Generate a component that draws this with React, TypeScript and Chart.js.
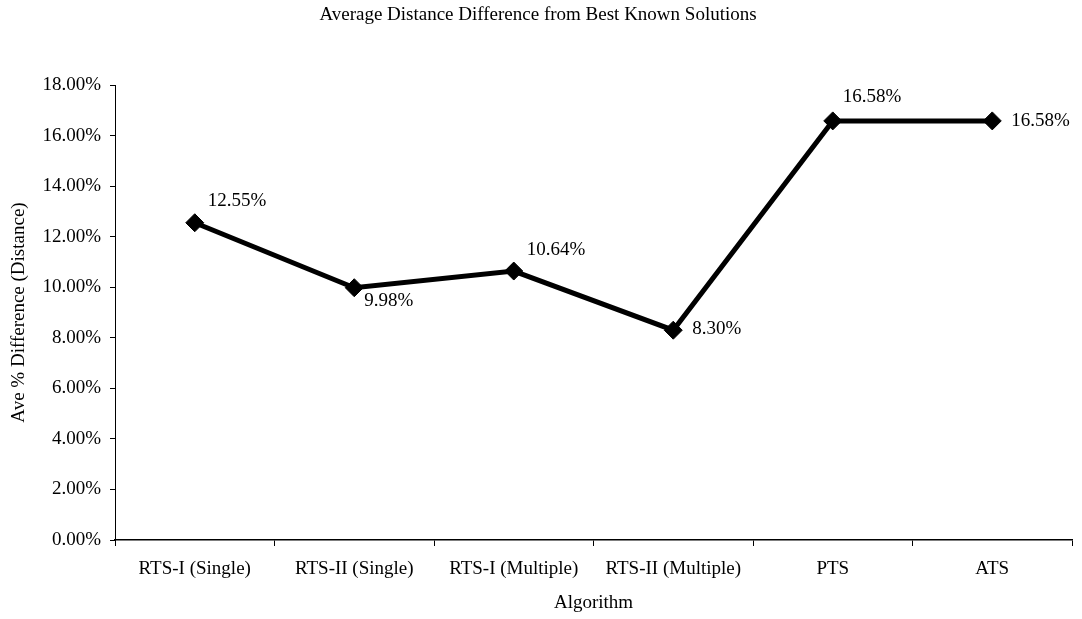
import React, { useEffect, useRef } from "react";
import { Chart, registerables } from "chart.js";

Chart.register(...registerables);

const CATEGORIES = [
  "RTS-I (Single)",
  "RTS-II (Single)",
  "RTS-I (Multiple)",
  "RTS-II (Multiple)",
  "PTS",
  "ATS",
];
const VALUES = [12.55, 9.98, 10.64, 8.3, 16.58, 16.58];
const Y_TICKS = [0, 2, 4, 6, 8, 10, 12, 14, 16, 18];

const TITLE = "Average Distance Difference from Best Known Solutions";
const X_TITLE = "Algorithm";
const Y_TITLE = "Ave % Difference (Distance)";

// label offsets (style only): [dx, dy] from the point, text left-aligned, middle baseline
const LABEL_OFFSETS: [number, number][] = [
  [13, -22],
  [10, 13],
  [13, -21],
  [19, -1],
  [10, -24],
  [19, 0],
];

const FONT = "'Liberation Serif', 'Times New Roman', serif";
const W = 1082;
const H = 619;

export default function App() {
  const ref = useRef<HTMLCanvasElement | null>(null);

  useEffect(() => {
    document.body.style.margin = "0";
    const canvas = ref.current;
    if (!canvas) return;

    const labelPlugin = {
      id: "customLabels",
      afterDatasetsDraw(chart: any) {
        const ctx = chart.ctx;
        const meta = chart.getDatasetMeta(0);
        ctx.save();
        ctx.fillStyle = "#000";
        ctx.font = `19px ${FONT}`;
        ctx.textAlign = "left";
        ctx.textBaseline = "middle";
        meta.data.forEach((pt: any, i: number) => {
          const [dx, dy] = LABEL_OFFSETS[i];
          ctx.fillText(VALUES[i].toFixed(2) + "%", pt.x + dx, pt.y + dy);
        });
        ctx.restore();
      },
      afterDraw(chart: any) {
        const ctx = chart.ctx;
        ctx.save();
        ctx.fillStyle = "#000";
        ctx.font = `19px ${FONT}`;
        ctx.textAlign = "center";
        ctx.textBaseline = "middle";
        ctx.fillText(TITLE, chart.width / 2 - 3, 15);
        ctx.restore();
      },
    };

    const chart = new Chart(canvas, {
      type: "line",
      data: {
        labels: CATEGORIES,
        datasets: [
          {
            data: VALUES,
            borderColor: "#000",
            backgroundColor: "#000",
            borderWidth: 5,
            pointStyle: "rectRot",
            pointRadius: 9,
            pointHoverRadius: 9,
            pointBackgroundColor: "#000",
            pointBorderColor: "#000",
            pointBorderWidth: 1,
            tension: 0,
            clip: false as any,
          },
        ],
      },
      options: {
        responsive: false,
        animation: false,
        devicePixelRatio: 1,
        layout: { padding: { top: 85, right: 8, left: 0, bottom: 0 } },
        plugins: {
          legend: { display: false },
          tooltip: { enabled: false },
          title: { display: false },
        },
        scales: {
          x: {
            type: "category",
            offset: true,
            grid: {
              display: true,
              offset: true,
              drawOnChartArea: false,
              drawTicks: true,
              tickLength: 6,
              color: "#000",
            },
            border: { display: true, color: "#000", width: 1.5 },
            ticks: {
              color: "#000",
              font: { family: FONT, size: 19 },
              padding: 12,
              maxRotation: 0,
              autoSkip: false,
            },
            title: {
              display: true,
              text: X_TITLE,
              color: "#000",
              font: { family: FONT, size: 19 },
              padding: { top: 0, bottom: 5 },
            },
            afterFit(scale: any) {
              scale.height = 79;
            },
          },
          y: {
            min: 0,
            max: 18,
            afterBuildTicks(scale: any) {
              scale.ticks = Y_TICKS.map((v) => ({ value: v }));
            },
            grid: {
              display: true,
              drawOnChartArea: false,
              drawTicks: true,
              tickLength: 5,
              color: "#000",
            },
            border: { display: true, color: "#000", width: 1 },
            ticks: {
              color: "#000",
              font: { family: FONT, size: 19 },
              padding: 9,
              callback: (v: any) => Number(v).toFixed(2) + "%",
            },
            title: {
              display: true,
              text: Y_TITLE,
              color: "#000",
              font: { family: FONT, size: 19 },
              padding: { top: 8, bottom: 0 },
            },
            afterFit(scale: any) {
              scale.width = 115;
            },
          },
        },
      },
      plugins: [labelPlugin],
    });

    return () => chart.destroy();
  }, []);

  return (
    <div style={{ position: "absolute", left: 0, top: 0, width: W, height: H, background: "#fff" }}>
      <canvas ref={ref} width={W} height={H} style={{ display: "block" }} />
    </div>
  );
}
